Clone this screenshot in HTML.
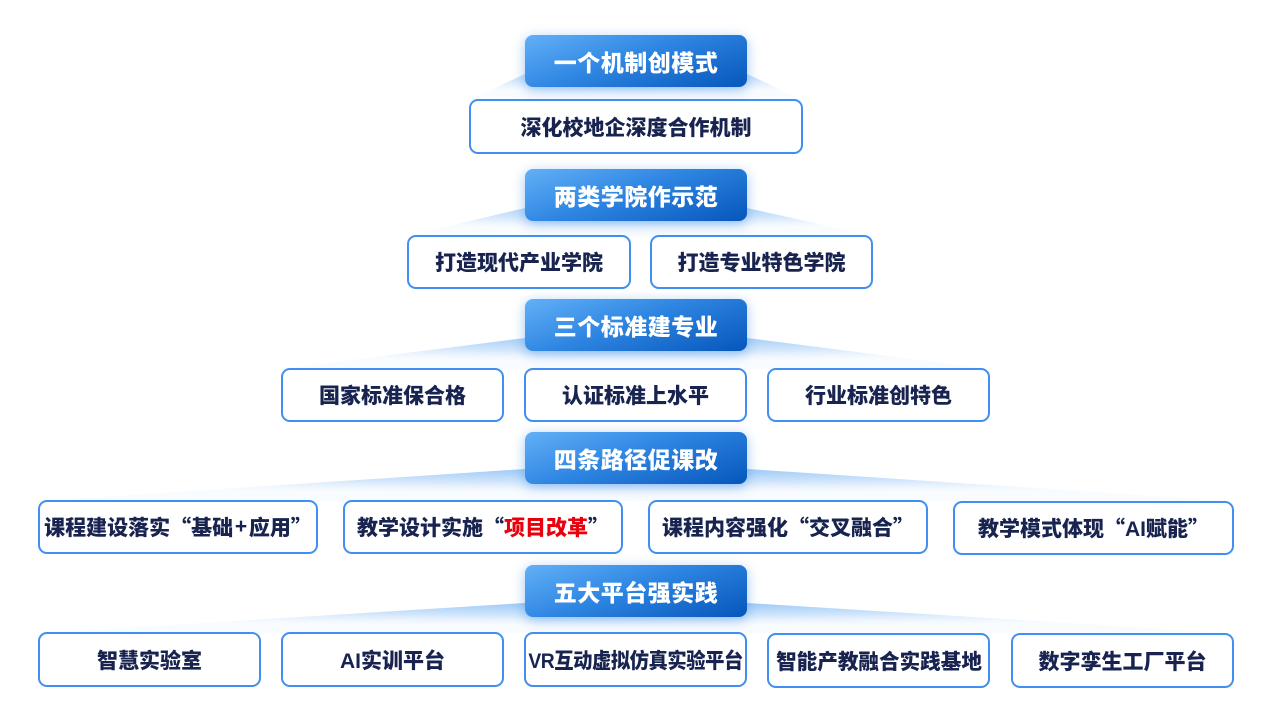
<!DOCTYPE html>
<html><head><meta charset="utf-8">
<style>
html,body{margin:0;padding:0;background:#fff;}
body{width:1266px;height:713px;position:relative;overflow:hidden;font-family:"Liberation Sans","Noto Sans CJK SC",sans-serif;}
.h{position:absolute;left:525px;width:222px;height:52px;border-radius:8px;
background:linear-gradient(160deg,#62b0f7 0%,#2f86e2 45%,#0656bb 100%);
box-shadow:0 3px 12px rgba(40,130,230,0.45);color:#fff;font-weight:900;font-size:23px;
display:flex;align-items:center;justify-content:center;letter-spacing:0.5px;z-index:3;}
.b{position:absolute;height:50px;border:2px solid #3f90f0;border-radius:9px;background:#fff;
color:#18244f;font-weight:900;font-size:21px;display:flex;align-items:center;justify-content:center;white-space:nowrap;z-index:2;box-sizing:content-box;}
.q{display:inline-block;width:1em;font-family:"Noto Sans CJK SC",sans-serif;}
.ql{text-align:right}
.qr{text-align:left}
.p{display:inline-block;width:0.75em;text-align:center;}
.red{color:#e8000f}
svg{position:absolute;left:0;top:0;z-index:1;}
</style></head><body>
<svg width="1266" height="713" viewBox="0 0 1266 713">
<defs>
<radialGradient id="g" cx="0.5" cy="0" r="0.75">
<stop offset="0" stop-color="#8cc0f6" stop-opacity="0.95"/>
<stop offset="0.55" stop-color="#c0dcf9" stop-opacity="0.75"/>
<stop offset="1" stop-color="#eef5fe" stop-opacity="0.35"/>
</radialGradient>
</defs>
<polygon points="525,74 747,74 803,100 469,100" fill="url(#g)"/>
<polygon points="525,208 747,208 873,236 407,236" fill="url(#g)"/>
<polygon points="525,338 747,338 990,369 281,369" fill="url(#g)"/>
<polygon points="525,469 747,469 1232,501 40,501" fill="url(#g)"/>
<polygon points="525,603 747,603 1232,633 40,633" fill="url(#g)"/>
</svg>

<div class="h" style="top:35px">一个机制创模式</div>
<div class="b" style="left:469px;top:99px;width:330px;height:51px">深化校地企深度合作机制</div>

<div class="h" style="top:169px">两类学院作示范</div>
<div class="b" style="left:407px;top:235px;width:220px;">打造现代产业学院</div>
<div class="b" style="left:650px;top:235px;width:219px;">打造专业特色学院</div>

<div class="h" style="top:299px">三个标准建专业</div>
<div class="b" style="left:281px;top:368px;width:219px;">国家标准保合格</div>
<div class="b" style="left:524px;top:368px;width:219px;">认证标准上水平</div>
<div class="b" style="left:767px;top:368px;width:219px;">行业标准创特色</div>

<div class="h" style="top:432px">四条路径促课改</div>
<div class="b" style="left:38px;top:500px;width:276px;">课程建设落实<span class="q ql">“</span>基础<span class="p">+</span>应用<span class="q qr">”</span></div>
<div class="b" style="left:343px;top:500px;width:276px;">教学设计实施<span class="q ql">“</span><span class="red">项目改革</span><span class="q qr">”</span></div>
<div class="b" style="left:648px;top:500px;width:276px;">课程内容强化<span class="q ql">“</span>交叉融合<span class="q qr">”</span></div>
<div class="b" style="left:953px;top:501px;width:277px;">教学模式体现<span class="q ql">“</span>AI赋能<span class="q qr">”</span></div>

<div class="h" style="top:565px">五大平台强实践</div>
<div class="b" style="left:38px;top:632px;width:219px;height:51px">智慧实验室</div>
<div class="b" style="left:281px;top:632px;width:219px;height:51px">AI实训平台</div>
<div class="b" style="left:524px;top:632px;width:219px;height:51px"><span style="display:inline-block;transform:scaleX(0.92);letter-spacing:-0.5px">VR互动虚拟仿真实验平台</span></div>
<div class="b" style="left:767px;top:633px;width:219px;height:51px"><span style="display:inline-block;transform:scaleX(0.98)">智能产教融合实践基地</span></div>
<div class="b" style="left:1011px;top:633px;width:219px;height:51px">数字孪生工厂平台</div>
</body></html>
